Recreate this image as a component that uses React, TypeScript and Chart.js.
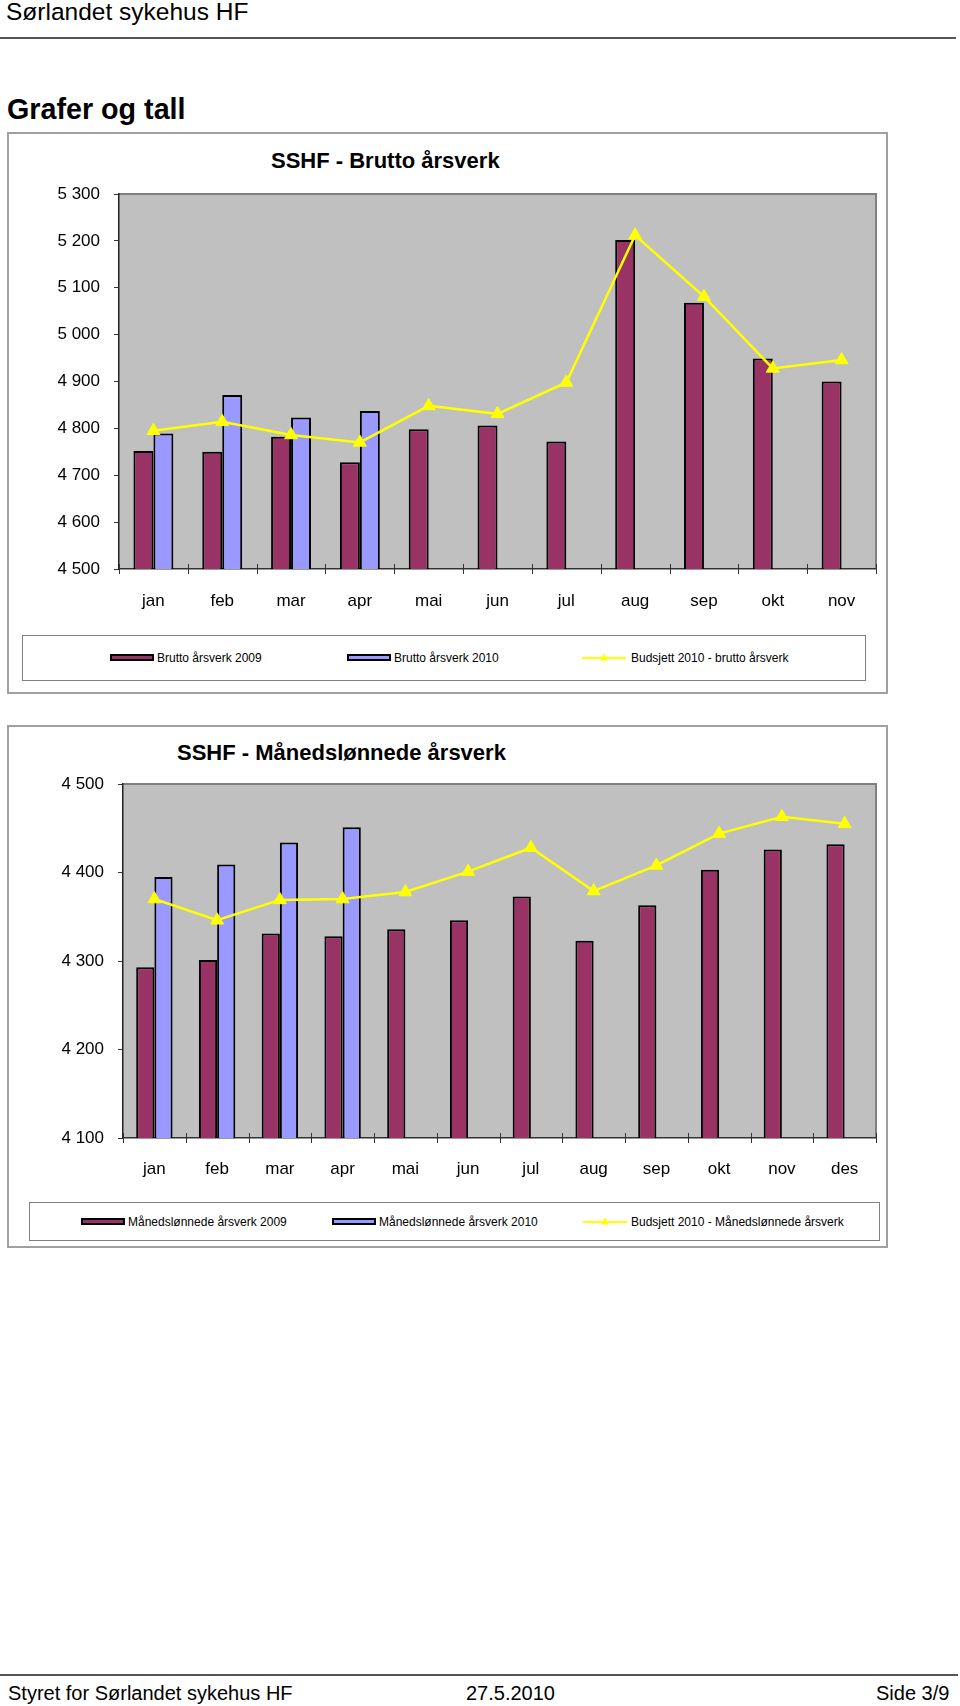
import React, { useEffect, useRef } from "react";
import { Chart, registerables } from "chart.js";

Chart.register(...registerables);

const FONT = "'Liberation Sans', Arial, Helvetica, sans-serif";
const PLUM = "#993366";
const PERI = "#9999FF";
const YEL = "#FFFF00";

// ---- Chart 1: Brutto årsverk ----
const bruttoMonths = ["jan", "feb", "mar", "apr", "mai", "jun", "jul", "aug", "sep", "okt", "nov"];
const brutto2009 = [4752, 4750, 4782, 4728, 4798, 4806, 4772, 5202, 5068, 4949, 4900];
const brutto2010 = [4789, 4871, 4823, 4837, null, null, null, null, null, null, null];
const bruttoBudget = [4795, 4814, 4786, 4770, 4848, 4831, 4898, 5212, 5081, 4928, 4946];
const bruttoRange = [4500, 5300];
const bruttoNames = ["Brutto årsverk 2009", "Brutto årsverk 2010", "Budsjett 2010 - brutto årsverk"];
const bruttoTitle = "SSHF - Brutto årsverk";

// ---- Chart 2: Månedslønnede årsverk ----
const mndMonths = ["jan", "feb", "mar", "apr", "mai", "jun", "jul", "aug", "sep", "okt", "nov", "des"];
const mnd2009 = [4293, 4301, 4331, 4328, 4336, 4346, 4373, 4323, 4363, 4403, 4426, 4432];
const mnd2010 = [4395, 4409, 4434, 4451, null, null, null, null, null, null, null, null];
const mndBudget = [4370, 4346, 4369, 4370, 4378, 4401, 4428, 4379, 4408, 4444, 4463, 4455];
const mndRange = [4100, 4500];
const mndNames = [
  "Månedslønnede årsverk 2009",
  "Månedslønnede årsverk 2010",
  "Budsjett 2010 - Månedslønnede årsverk",
];
const mndTitle = "SSHF - Månedslønnede årsverk";

const yStep = 100;

function fmt(v: number): string {
  const s = Math.round(v).toString();
  return s.length > 3 ? s.slice(0, -3) + " " + s.slice(-3) : s;
}

const plotFrame = {
  id: "plotFrame",
  beforeDraw(chart: any) {
    const { ctx, chartArea: a } = chart;
    ctx.save();
    ctx.fillStyle = "#C0C0C0";
    ctx.fillRect(a.left, a.top, a.right - a.left, a.bottom - a.top);
    ctx.strokeStyle = "#808080";
    ctx.lineWidth = 2;
    ctx.beginPath();
    ctx.moveTo(a.left, a.top);
    ctx.lineTo(a.right, a.top);
    ctx.lineTo(a.right, a.bottom);
    ctx.stroke();
    ctx.restore();
  },
  afterDraw(chart: any) {
    const { ctx, chartArea: a } = chart;
    const xs = chart.scales.x;
    const n = xs.ticks.length;
    ctx.save();
    ctx.strokeStyle = "#333";
    ctx.lineWidth = 1;
    for (let i = 0; i <= n; i++) {
      const x = Math.round(xs.left + (i * (xs.right - xs.left)) / n) + 0.5;
      ctx.beginPath();
      ctx.moveTo(x, a.bottom - 5);
      ctx.lineTo(x, a.bottom + 5);
      ctx.stroke();
    }
    ctx.restore();
  },
};

type Geo = {
  left: number;
  top: number;
  width: number;
  height: number;
  plotLeft: number;
  plotTop: number;
  padRight: number;
  axisH: number;
  xPad: number;
  yPad: number;
};

function BarLineChart(props: {
  labels: string[];
  a: (number | null)[];
  b: (number | null)[];
  line: number[];
  names: string[];
  range: number[];
  geo: Geo;
}) {
  const { labels, a, b, line, names, range, geo } = props;
  const ref = useRef<HTMLCanvasElement>(null);
  useEffect(() => {
    const chart = new Chart(ref.current as HTMLCanvasElement, {
      type: "bar",
      data: {
        labels,
        datasets: [
          {
            type: "line",
            label: names[2],
            data: line,
            borderColor: YEL,
            backgroundColor: YEL,
            borderWidth: 2.5,
            pointStyle: "triangle",
            pointRadius: 7.5,
            pointBackgroundColor: YEL,
            pointBorderColor: YEL,
            pointBorderWidth: 1,
            tension: 0,
            order: 0,
          } as any,
          {
            type: "bar",
            label: names[0],
            data: a,
            backgroundColor: PLUM,
            borderColor: "#000",
            borderWidth: 2,
            barPercentage: 1,
            categoryPercentage: 0.58,
            order: 1,
          } as any,
          {
            type: "bar",
            label: names[1],
            data: b,
            backgroundColor: PERI,
            borderColor: "#000",
            borderWidth: 2,
            barPercentage: 1,
            categoryPercentage: 0.58,
            order: 1,
          } as any,
        ],
      },
      options: {
        responsive: false,
        animation: false,
        devicePixelRatio: 1,
        layout: {
          autoPadding: false,
          padding: { left: 0, top: geo.plotTop, right: geo.padRight, bottom: 0 },
        },
        plugins: {
          legend: { display: false },
          title: { display: false },
          tooltip: { enabled: false },
        },
        scales: {
          x: {
            offset: true,
            grid: { display: false },
            border: { display: true, color: "#333", width: 1.5 },
            ticks: {
              color: "#000",
              font: { family: FONT, size: 17 },
              padding: geo.xPad,
              maxRotation: 0,
              autoSkip: false,
            },
            afterFit: (s: any) => {
              s.height = geo.axisH;
            },
          },
          y: {
            min: range[0],
            max: range[1],
            grid: {
              display: true,
              drawOnChartArea: false,
              drawTicks: true,
              tickLength: 5,
              color: "#333",
              lineWidth: 1,
            },
            border: { display: true, color: "#222", width: 1.5 },
            ticks: {
              stepSize: yStep,
              color: "#000",
              font: { family: FONT, size: 17 },
              padding: geo.yPad,
              callback: (v: any) => fmt(Number(v)),
            },
            afterFit: (s: any) => {
              s.width = geo.plotLeft;
            },
          },
        },
      } as any,
      plugins: [plotFrame],
    });
    return () => chart.destroy();
  }, []);
  return (
    <canvas
      ref={ref}
      width={geo.width}
      height={geo.height}
      style={{ position: "absolute", left: geo.left, top: geo.top, width: geo.width, height: geo.height }}
    />
  );
}

function Swatch(props: { color: string; left: number }) {
  return (
    <div
      style={{
        position: "absolute",
        left: props.left,
        top: -4,
        width: 44,
        height: 7,
        boxSizing: "border-box",
        background: props.color,
        border: "2px solid #000",
      }}
    />
  );
}

function LineSwatch(props: { left: number }) {
  return (
    <svg
      width={44}
      height={12}
      style={{ position: "absolute", left: props.left, top: -6 }}
      viewBox="0 0 44 12"
    >
      <line x1={0} y1={6} x2={44} y2={6} stroke={YEL} strokeWidth={2} />
      <polygon points="22,1.5 26,8.5 18,8.5" fill={YEL} />
    </svg>
  );
}

function Legend(props: {
  box: { left: number; top: number; width: number; height: number };
  names: string[];
  pos: number[][];
}) {
  const { box, names, pos } = props;
  const txt: React.CSSProperties = {
    position: "absolute",
    top: -7,
    fontFamily: FONT,
    fontSize: 12,
    lineHeight: "14px",
    whiteSpace: "nowrap",
    color: "#000",
  };
  return (
    <div
      style={{
        position: "absolute",
        left: box.left,
        top: box.top,
        width: box.width,
        height: box.height,
        boxSizing: "border-box",
        border: "1px solid #808080",
        background: "#fff",
      }}
    >
      <div style={{ position: "absolute", left: -box.left - 1, top: box.height / 2 - 1, width: 0, height: 0 }}>
        <Swatch color={PLUM} left={pos[0][0]} />
        <div style={{ ...txt, left: pos[0][1] }}>{names[0]}</div>
        <Swatch color={PERI} left={pos[1][0]} />
        <div style={{ ...txt, left: pos[1][1] }}>{names[1]}</div>
        <LineSwatch left={pos[2][0]} />
        <div style={{ ...txt, left: pos[2][1] }}>{names[2]}</div>
      </div>
    </div>
  );
}

function Text(props: { left: number; top: number; size: number; bold?: boolean; children: React.ReactNode }) {
  return (
    <div
      style={{
        position: "absolute",
        left: props.left,
        top: props.top,
        fontFamily: FONT,
        fontSize: props.size,
        fontWeight: props.bold ? "bold" : "normal",
        lineHeight: 1,
        whiteSpace: "nowrap",
        color: "#000",
      }}
    >
      {props.children}
    </div>
  );
}

export default function App() {
  const geo1: Geo = {
    left: 8,
    top: 133,
    width: 878,
    height: 496,
    plotLeft: 111,
    plotTop: 61,
    padRight: 10,
    axisH: 60,
    xPad: 14,
    yPad: 14,
  };
  const geo2: Geo = {
    left: 8,
    top: 726,
    width: 878,
    height: 472,
    plotLeft: 115,
    plotTop: 58,
    padRight: 10,
    axisH: 60,
    xPad: 13,
    yPad: 14,
  };
  return (
    <div
      style={{
        position: "absolute",
        left: 0,
        top: 0,
        width: 960,
        height: 1706,
        background: "#fff",
        overflow: "hidden",
      }}
    >
      <Text left={6} top={0} size={24.5}>
        Sørlandet sykehus HF
      </Text>
      <div style={{ position: "absolute", left: 0, top: 37, width: 956, height: 2, background: "#555" }} />
      <Text left={7} top={94.5} size={28.7} bold>
        Grafer og tall
      </Text>

      {/* Chart 1 */}
      <div
        style={{
          position: "absolute",
          left: 7,
          top: 132,
          width: 881,
          height: 562,
          boxSizing: "border-box",
          border: "2px solid #a0a0a0",
        }}
      />
      <Text left={271} top={149.7} size={22} bold>
        {bruttoTitle}
      </Text>
      <BarLineChart
        labels={bruttoMonths}
        a={brutto2009}
        b={brutto2010}
        line={bruttoBudget}
        names={bruttoNames}
        range={bruttoRange}
        geo={geo1}
      />
      <Legend
        box={{ left: 22, top: 635, width: 844, height: 46 }}
        names={bruttoNames}
        pos={[
          [110, 157],
          [347, 394],
          [582, 631],
        ]}
      />

      {/* Chart 2 */}
      <div
        style={{
          position: "absolute",
          left: 7,
          top: 725,
          width: 881,
          height: 523,
          boxSizing: "border-box",
          border: "2px solid #a0a0a0",
        }}
      />
      <Text left={177} top={742.4} size={22} bold>
        {mndTitle}
      </Text>
      <BarLineChart
        labels={mndMonths}
        a={mnd2009}
        b={mnd2010}
        line={mndBudget}
        names={mndNames}
        range={mndRange}
        geo={geo2}
      />
      <Legend
        box={{ left: 29, top: 1202, width: 851, height: 39 }}
        names={mndNames}
        pos={[
          [81, 128],
          [332, 379],
          [583, 631],
        ]}
      />

      {/* Footer */}
      <div style={{ position: "absolute", left: 0, top: 1674, width: 958, height: 2, background: "#555" }} />
      <Text left={8} top={1682.6} size={20}>
        Styret for Sørlandet sykehus HF
      </Text>
      <Text left={466} top={1682.6} size={20}>
        27.5.2010
      </Text>
      <Text left={876} top={1682.6} size={20}>
        Side 3/9
      </Text>
    </div>
  );
}
